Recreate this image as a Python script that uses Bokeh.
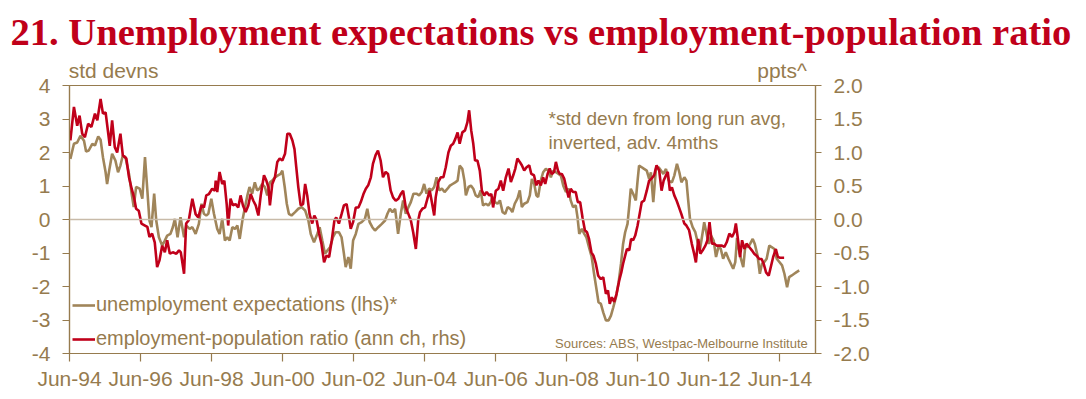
from bokeh.plotting import figure
from bokeh.models import (Range1d, LinearAxis, FixedTicker, PrintfTickFormatter,
                          Span, Label, Legend, LegendItem)
from bokeh.embed import file_html
from bokeh.resources import INLINE

# ---------------- data (months since Jun-1994) ----------------
x_ticks = [0, 24, 48, 72, 96, 120, 144, 168, 192, 216, 240]
x_labels = ["Jun-94", "Jun-96", "Jun-98", "Jun-00", "Jun-02", "Jun-04",
            "Jun-06", "Jun-08", "Jun-10", "Jun-12", "Jun-14"]
lhs_ticks = [-4, -3, -2, -1, 0, 1, 2, 3, 4]
rhs_ticks = [-2.0, -1.5, -1.0, -0.5, 0.0, 0.5, 1.0, 1.5, 2.0]
unit_labels = ["std devns", "ppts^"]

# unemployment expectations (lhs, std devns)
tan_m = [0.3, 1.5, 2.6, 3.7, 4.9, 5.6, 6.5, 7.7, 8.6, 9.7, 10.5, 11.3, 12.2, 12.7, 13.5, 14.4,
         15.5, 16.4, 17.2, 18.0, 18.9, 20.1, 21.0, 21.7, 22.5, 23.7, 24.6, 25.5, 26.3, 27.0,
         27.7, 28.6, 29.3, 30.2, 31.3, 32.2, 33.0, 34.1, 34.9, 35.6, 36.5, 37.5, 38.7, 39.4,
         40.6, 41.5, 42.6, 43.7, 44.6, 45.4, 46.2, 46.9, 47.9, 48.8,
         49.9, 50.7, 51.6, 52.5, 53.3, 54.1, 55.0, 55.9, 56.7, 57.5, 58.4, 59.3, 60.1, 60.8,
         61.7, 62.6, 63.4, 64.2, 65.1, 66.0, 66.8, 67.7, 68.5, 69.4, 70.3, 71.3, 71.9, 72.7,
         73.4, 74.1, 75.0, 76.2, 77.3, 78.4, 79.6, 80.7, 81.5, 82.6, 83.7, 84.5, 85.4, 86.3,
         87.1, 88.0, 89.0, 89.9, 91.0, 91.9, 92.7, 93.3, 94.2, 95.0, 95.8, 96.7, 97.6, 98.7, 99.8,
         100.6, 101.4, 102.3, 103.2, 104.3, 105.5, 106.6, 107.4, 108.2, 109.1, 110.0, 111.0,
         111.9, 112.7, 113.6, 114.5, 115.3, 116.2, 117.2, 118.1, 119.0, 119.8, 120.6, 121.5,
         122.4, 123.2, 124.0, 124.9, 125.8, 126.7, 127.7, 128.5, 129.4, 130.3, 131.1, 131.8,
         132.7, 133.4, 133.9, 134.8, 135.6, 136.4, 137.2, 138.1, 138.9, 139.7, 140.6, 141.5,
         142.3, 142.9, 143.7, 144.6, 145.4, 146.3, 147.2, 148.0, 148.9, 149.6, 150.4, 151.3, 152.1,
         152.8, 153.6, 154.7, 155.5, 156.2, 157.0, 157.7, 158.3, 159.2, 160.0, 160.9, 161.8,
         162.6, 163.4, 164.3, 165.2, 166.0, 166.8, 167.7, 168.6, 169.3, 170.1, 171.0, 171.6,
         172.2, 173.1, 173.9, 174.6, 175.5, 176.4, 177.2, 178.0, 178.7, 179.5, 180.3, 181.2,
         182.1, 182.9, 183.7, 184.6, 185.5, 186.3, 187.0, 187.7, 188.5, 189.1, 189.6, 190.4,
         191.3, 191.9, 192.4, 193.3, 194.1, 195.0, 195.8, 196.4, 197.2, 198.1, 199.0, 199.8,
         200.6, 201.5,
         202.4, 203.5, 204.3, 205.2, 206.0, 206.7, 207.7, 208.4, 209.0, 209.6, 210.5, 211.4,
         212.2, 213.0, 213.9, 214.4, 215.0, 215.9, 216.7, 217.6, 218.4, 219.3, 220.0, 220.8,
         221.7, 222.6, 223.4, 224.2, 224.9, 225.5, 226.0, 226.8, 227.6, 228.3, 229.1, 229.9,
         230.8, 231.5, 232.4, 233.2, 233.9, 234.7, 235.5, 236.4, 237.3, 238.1, 238.9, 239.8,
         240.7, 241.5, 242.4, 243.1, 244.0, 244.8, 245.6, 246.5]
tan_v = [1.81, 2.26, 2.30, 2.50, 2.35, 2.03, 2.06, 2.26, 2.21, 2.48, 2.38, 1.86, 1.41, 1.06, 1.51, 1.96,
         1.76, 1.41, 1.61, 1.91, 1.86, 1.36, 0.77, 0.37, 0.97, 0.92, 0.62, 1.86, 0.87, -0.03,
         -0.23, 0.77, -0.03, -0.53, -0.78, -0.63, -0.48, -0.43, -0.23, 0.02, -0.53, 0.07, -0.53, -0.18,
         -0.28, -0.23, -0.43, -0.13, 0.47, 0.17, 0.12, 0.17, 0.62, 0.17,
         -0.28, -0.43, 0.02, -0.63, -0.53, -0.63, -0.23, -0.28, -0.18, -0.58, -0.03, 0.37, 0.72, 0.97,
         0.77, 1.11, 0.87, 0.92, 1.06, 0.97, 0.72, 1.11, 1.16, 1.26, 1.31, 1.36, 1.46, 0.97,
         0.47, 0.17, 0.12, 0.22, 0.32, 0.37, 0.27, -0.03, -0.43, -0.68, -0.43, -0.23, -0.63, -1.02,
         -0.93, -0.83, -0.53, -0.38, -0.38, -0.53, -1.02, -1.42, -1.12, -1.47, -0.63, -0.43, -0.13, -0.08, 0.02,
         0.32, -0.08, -0.23, -0.33, -0.23, -0.13, -0.03, 0.17, 0.32, 0.22, 0.32, -0.43,
         0.17, 0.57, 0.17, 0.37, 0.52, 0.77, 0.77, 0.72, 0.82, 1.06, 0.77, 0.92,
         0.87, 0.97, 1.26, 0.87, 0.92, 0.82, 0.92, 1.01, 1.06, 1.11, 1.16, 1.61,
         1.51, 1.16, 0.72, 0.97, 1.01, 0.92, 0.72, 0.67, 0.87, 0.42, 0.47, 0.42,
         0.52, 0.67, 0.52, 0.47, 0.57, 0.22, 0.17, 0.37, 0.32, 0.22, 0.47, 0.62, 0.87,
         0.37, 0.47, 0.52, 0.72, 1.21, 1.06, 0.72, 0.67, 1.16, 1.41, 1.51, 1.46,
         1.26, 1.46, 1.41, 1.36, 1.31, 1.01, 0.82, 0.92, 0.57, 0.37, 0.42, 0.07,
         -0.43, -0.28, -0.43, -0.53, -0.83, -1.12, -1.62, -2.07, -2.47, -2.52, -2.77, -3.01,
         -3.01, -2.87, -2.62, -2.32, -1.87, -1.32, -0.73, -0.38, -0.13, 0.42, 0.92, 0.77,
         0.57, 1.16, 1.61, 1.56, 1.51, 1.46, 1.21, 1.41, 0.52, 1.51, 1.56, 1.46,
         1.36, 1.51,
         1.16, 1.11, 1.31, 1.66, 1.41, 1.11, 1.26, 1.16, 0.57, 0.02, -0.23, -0.38,
         -0.68, -0.88, -0.38, -0.08, -0.33, -0.73, -0.48, -0.63, -1.12, -0.78, -0.88, -1.17,
         -0.98, -1.17, -1.32, -1.47, -1.27, -0.55, -0.83, -1.17, -1.42, -0.78, -0.83, -0.73,
         -0.58, -0.73, -1.07, -1.62, -1.32, -1.27, -1.17, -0.78, -0.83, -0.88, -1.17, -1.27,
         -1.37, -1.62, -2.02, -1.72, -1.67, -1.62, -1.57, -1.52]

# employment-population ratio, annual change (rhs, ppts)
red_m = [0.3, 1.5, 2.6, 3.4, 4.3, 5.2, 6.3, 7.4, 8.6, 9.4, 10.5, 11.3, 12.2, 13.1, 13.6, 14.4,
         15.3, 16.1, 17.2, 18.0, 19.2, 20.1, 21.0, 21.8, 22.5, 23.4, 24.3, 25.5, 26.3, 27.0,
         27.9, 28.8, 29.6, 30.4, 31.3, 32.2, 33.0, 33.9, 34.9, 36.1, 37.0, 37.6, 38.7, 39.4,
         40.3, 41.5, 42.6, 43.5, 44.6, 45.4, 46.2, 47.1, 48.2, 49.1,
         49.4, 49.9, 50.7, 51.6, 52.3, 53.1, 53.6, 54.4, 55.2, 56.1, 57.0, 57.8, 58.6, 59.5,
         60.4, 61.2, 62.1, 62.9, 63.8, 64.6, 65.7, 66.5, 67.2, 67.7, 68.5, 69.4, 70.2, 71.0,
         71.9, 72.8, 73.6, 74.4, 75.3, 76.0, 76.6, 77.3, 78.1, 78.9, 79.6, 80.3, 81.1, 82.0,
         82.7, 83.5, 84.3, 85.1, 86.0, 86.8, 87.7, 88.6, 89.5, 90.1, 91.0, 91.9, 92.7, 93.6,
         94.4, 95.0, 95.8, 96.7, 97.6, 98.4, 99.3, 100.1, 100.9,
         101.8, 102.5, 103.4, 104.2, 105.1, 105.9, 106.8, 107.6, 108.5, 109.3, 110.2, 111.1,
         111.9, 112.7, 113.6, 114.5, 115.3, 116.1, 117.0, 117.8, 118.4, 119.2, 120.1, 120.9,
         121.7, 122.4, 123.2, 123.7, 124.6, 125.4, 126.3, 127.1, 128.0, 128.8, 129.6, 130.3,
         131.1, 131.8, 132.7, 133.6, 134.4, 135.0, 135.7, 136.4, 137.0, 137.8, 138.6, 139.3,
         140.1, 140.9, 141.8, 142.5, 143.1, 144.0, 144.9, 145.7, 146.5, 147.4, 148.3, 149.1,
         149.9, 150.6, 151.3, 152.1,
         152.8, 153.6, 154.4, 155.3, 156.0, 156.9, 157.7, 158.4, 159.2, 160.0, 160.7, 161.5,
         162.2, 162.9, 163.7, 164.3, 165.0, 165.6, 166.3, 167.1, 167.9, 168.6, 169.3, 170.1,
         171.0, 171.7, 172.5, 173.3, 174.1, 174.8, 175.5, 176.3, 177.0, 177.8, 178.6, 179.5,
         180.3, 181.2, 181.9, 182.5, 183.2, 184.0, 184.8, 185.7, 186.4, 187.0, 187.7, 188.3,
         189.1, 189.7, 190.4, 191.1, 191.9, 192.7, 193.3, 194.1, 195.0, 195.8, 196.6, 197.5,
         198.3, 199.2, 200.0, 200.7, 201.5,
         202.1, 202.8, 203.5, 204.3, 205.1, 205.9, 206.7, 207.7, 208.4, 209.3, 210.2, 211.0,
         211.6, 212.4, 213.1, 213.9, 214.8, 215.5, 216.2, 217.0, 217.8, 218.6, 219.5, 220.4,
         221.2, 222.0, 222.9, 223.8, 224.6, 225.1, 225.7, 226.5, 227.2, 228.0, 228.7, 229.6,
         230.5, 231.3, 232.1, 233.0, 233.8, 234.5, 235.3, 236.2, 237.0, 237.7, 238.6, 239.3,
         240.0, 240.8, 241.4]
red_v = [1.18, 1.68, 1.40, 1.55, 1.28, 1.23, 1.43, 1.38, 1.58, 1.48, 1.80, 1.58, 1.60, 1.28, 1.10, 1.48,
         1.08, 1.00, 1.28, 0.96, 0.91, 0.63, 0.46, 0.33, 0.16, 0.13, -0.06, -0.09, -0.11, -0.26,
         -0.21, -0.34, -0.71, -0.61, -0.39, -0.49, -0.31, -0.51, -0.49, -0.51, -0.46, -0.49, -0.81, -0.06,
         -0.01, 0.31, 0.08, 0.03, 0.21, 0.18, 0.36, 0.38, 0.46, 0.43,
         0.58, 0.41, 0.71, 0.53, 0.58, 0.23, -0.09, 0.31, 0.21, 0.23, 0.18, 0.36, 0.21, 0.11,
         0.21, 0.38, 0.28, 0.21, 0.06, 0.36, 0.66, 0.58, 0.48, 0.21, 0.53, 0.63, 0.86, 0.91,
         0.88, 0.98, 1.28, 1.28, 1.18, 1.05, 0.78, 0.48, 0.21, 0.23, 0.53, 0.36, 0.08, -0.06,
         0.06, -0.01, -0.21, -0.36, -0.64, -0.54, -0.56, -0.31, -0.01, 0.03, -0.06, 0.08, 0.21, 0.23,
         0.03, -0.14, -0.04, 0.18, 0.18, 0.26, 0.38, 0.46, 0.51,
         0.63, 0.83, 0.96, 1.03, 0.88, 0.63, 0.71, 0.68, 0.43, 0.33, 0.28, 0.31,
         0.38, 0.43, 0.18, 0.08, -0.01, -0.19, -0.44, -0.01, 0.11, 0.16, 0.18, 0.31,
         0.43, 0.26, 0.06, 0.33, 0.56, 0.63, 0.63, 0.78, 1.00, 1.10, 1.13, 1.20,
         1.30, 1.13, 1.30, 1.33, 1.45, 1.63, 1.33, 1.13, 0.88, 0.88, 0.73, 0.43,
         0.36, 0.41, 0.36, 0.38, 0.18, 0.43, 0.46, 0.58, 0.43, 0.63, 0.76, 0.56,
         0.66, 0.76, 0.91, 0.86,
         0.81, 0.73, 0.78, 0.81, 0.68, 0.66, 0.51, 0.58, 0.51, 0.63, 0.53, 0.68,
         0.76, 0.68, 0.71, 0.86, 0.73, 0.68, 0.68, 0.61, 0.46, 0.33, 0.46, 0.41,
         0.41, 0.26, 0.26, 0.03, -0.16, -0.19, -0.29, -0.49, -0.54, -0.66, -0.84, -0.89,
         -0.86, -1.11, -1.06, -1.26, -1.16, -1.23, -1.11, -0.91, -0.79, -0.66, -0.54, -0.44,
         -0.46, -0.29, -0.31, -0.24, -0.09, 0.11, 0.26, 0.28, 0.43, 0.58, 0.61, 0.66,
         0.81, 0.73, 0.43, 0.58, 0.66,
         0.71, 0.43, 0.48, 0.36, 0.28, 0.18, 0.08, -0.06, -0.09, -0.16, -0.36, -0.51,
         -0.64, -0.29, -0.51, -0.46, -0.39, -0.31, -0.04, -0.36, -0.36, -0.39, -0.39, -0.39,
         -0.41, -0.34, -0.21, -0.26, -0.19, -0.06, -0.26, -0.56, -0.31, -0.44, -0.36, -0.41,
         -0.46, -0.51, -0.54, -0.59, -0.59, -0.66, -0.79, -0.84, -0.69, -0.56, -0.44, -0.56,
         -0.57, -0.57, -0.57]

# ---------------- styling ----------------
TAN_TXT = "#967B4E"
TAN_LINE = "#A0855A"
RED = "#C0001A"
FONT = "Liberation Sans"
unit_pos = [14.9, 240.7]   # horizontal centres of the unit captions (months)

p = figure(width=1084, height=395, x_range=Range1d(0, 252), y_range=Range1d(-4, 4),
           output_backend="svg", toolbar_location=None,
           title="21. Unemployment expectations vs employment-population ratio",
           min_border_left=69, min_border_right=269, min_border_top=85, min_border_bottom=42)
p.extra_y_ranges = {"rhs": Range1d(-2, 2)}
p.grid.visible = False
p.background_fill_color = "white"
p.border_fill_color = "white"
p.outline_line_color = TAN_TXT
p.outline_line_width = 1.2

p.title.align = "left"
p.title.offset = -59
p.title.standoff = 5
p.title.text_font = "Liberation Serif"
p.title.text_font_style = "bold"
p.title.text_font_size = "38.6px"
p.title.text_color = RED


def style_axis(ax):
    ax.axis_line_color = TAN_TXT
    ax.axis_line_width = 1.2
    ax.major_tick_line_color = TAN_TXT
    ax.major_tick_line_width = 1.2
    ax.major_tick_in = 0
    ax.minor_tick_line_color = None
    ax.major_label_text_color = TAN_TXT
    ax.major_label_text_font = FONT
    ax.major_label_text_font_size = "21px"


xa = p.xaxis[0]
xa.ticker = FixedTicker(ticks=x_ticks)
xa.major_label_overrides = {t: l for t, l in zip(x_ticks, x_labels)}
style_axis(xa)
xa.major_tick_out = 8
xa.major_label_standoff = 5

ya = p.yaxis[0]
ya.ticker = FixedTicker(ticks=lhs_ticks)
ya.formatter = PrintfTickFormatter(format="%d")
style_axis(ya)
ya.major_tick_out = 7
ya.major_label_standoff = 12

ra = LinearAxis(y_range_name="rhs", ticker=FixedTicker(ticks=rhs_ticks),
                formatter=PrintfTickFormatter(format="%.1f"))
style_axis(ra)
ra.major_tick_out = 6
ra.major_label_standoff = 12
p.add_layout(ra, "right")

# unit captions above the frame ("std devns" / "ppts^")
ua = LinearAxis(ticker=FixedTicker(ticks=unit_pos),
                major_label_overrides={pos: t for pos, t in zip(unit_pos, unit_labels)})
style_axis(ua)
ua.axis_line_color = None
ua.major_tick_line_color = None
ua.major_tick_out = 0
ua.major_label_standoff = 4
p.add_layout(ua, "above")

p.add_layout(Span(location=0, dimension="width", line_color="#C8BAA8", line_width=1.5))

r_tan = p.line(tan_m, tan_v, line_color=TAN_LINE, line_width=2.6)
r_red = p.line(red_m, red_v, line_color=RED, line_width=2.6, y_range_name="rhs")

legend = Legend(items=[LegendItem(label="unemployment expectations (lhs)*", renderers=[r_tan]),
                       LegendItem(label="employment-population ratio (ann ch, rhs)", renderers=[r_red])],
                location=(3, 3), orientation="vertical",
                background_fill_alpha=0, border_line_color=None,
                label_text_font=FONT, label_text_font_size="20px", label_text_color=TAN_TXT,
                glyph_width=23, glyph_height=20, label_height=20, label_standoff=1,
                spacing=11, padding=0, margin=0)
p.add_layout(legend, "center")

p.add_layout(Label(x=252, y=4, x_offset=-267, y_offset=-22, text="*std devn from long run avg,",
                   text_font=FONT, text_font_size="19px", text_color=TAN_TXT,
                   text_baseline="top"))
p.add_layout(Label(x=252, y=4, x_offset=-267, y_offset=-46, text="inverted, adv. 4mths",
                   text_font=FONT, text_font_size="19px", text_color=TAN_TXT,
                   text_baseline="top"))
p.add_layout(Label(x=252, y=-4, x_offset=-7, y_offset=18,
                   text="Sources: ABS, Westpac-Melbourne Institute",
                   text_font=FONT, text_font_size="13px", text_color=TAN_TXT,
                   text_baseline="top", text_align="right"))

open("out.html", "w").write(file_html(p, INLINE))
